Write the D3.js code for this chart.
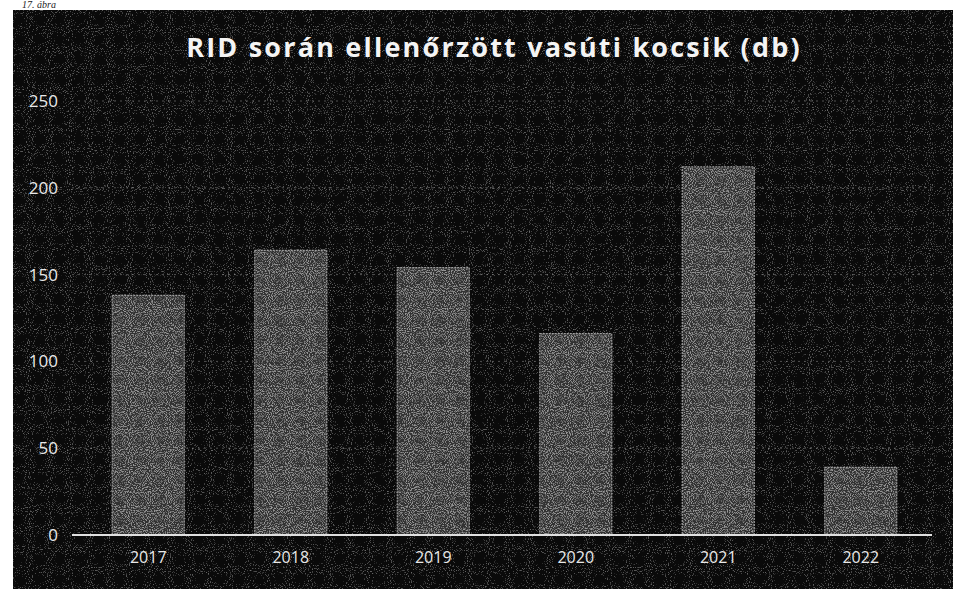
<!DOCTYPE html>
<html><head><meta charset="utf-8">
<script src="https://cdn.jsdelivr.net/npm/d3@7"></script>
<style>html,body{margin:0;padding:0;background:#fff;}svg{display:block;}</style>
</head><body>
<script>
const categories = ["2017","2018","2019","2020","2021","2022"];
const values = [138, 164, 154, 116, 212, 39];
const yTicks = [0, 50, 100, 150, 200, 250];
const titleText = "RID során ellenőrzött vasúti kocsik (db)";

const W = 953, H = 589;
const svg = d3.select("body").append("svg").attr("width", W).attr("height", H);

const defs = svg.append("defs");
function speck(id, thr, seed){
  const f = defs.append("filter").attr("id",id).attr("x",0).attr("y",0).attr("width","100%").attr("height","100%");
  f.append("feTurbulence").attr("type","fractalNoise").attr("baseFrequency",0.95).attr("numOctaves",1).attr("seed",seed).attr("result","n");
  f.append("feColorMatrix").attr("in","n").attr("type","matrix")
   .attr("values",`0 0 0 0 1  0 0 0 0 1  0 0 0 0 1  5 0 0 0 ${thr}`).attr("result","m");
  f.append("feComposite").attr("in","m").attr("in2","SourceGraphic").attr("operator","atop");
}
speck("speckBg", -3.0, 3);
speck("speckBar", -2.45, 7);

// page caption
svg.append("text").attr("x", 22).attr("y", 8).attr("font-family","Liberation Serif, serif")
  .attr("font-style","italic").attr("font-size",10).attr("fill","#222").text("17. ábra");

// dark panel
svg.append("rect").attr("x",13).attr("y",10).attr("width",W-13).attr("height",H-10).attr("fill","#080808");
svg.append("rect").attr("x",13).attr("y",10).attr("width",W-13).attr("height",H-10).attr("fill","#080808").attr("filter","url(#speckBg)").attr("opacity",0.4);

const x = d3.scaleBand().domain(categories).range([77, 932]).paddingInner(0.495).paddingOuter(0.2475);
const y = d3.scaleLinear().domain([0, 250]).range([535, 101]);

// gridlines
svg.append("g").selectAll("line").data(yTicks.filter(d=>d>0)).join("line")
  .attr("x1",72).attr("x2",932).attr("y1",d=>y(d)).attr("y2",d=>y(d))
  .attr("stroke","#9a9a9a").attr("stroke-width",1).attr("stroke-dasharray","2,4").attr("opacity",0.5);

// bars
const bars = svg.append("g");
bars.selectAll("rect.bar").data(values).join("rect").attr("class","bar")
  .attr("x",(d,i)=>x(categories[i])).attr("width",x.bandwidth())
  .attr("y",d=>y(d)).attr("height",d=>y(0)-y(d))
  .attr("fill","#333333").attr("stroke","#a0a0a0").attr("stroke-width",1.2).attr("stroke-dasharray","2,1");
bars.selectAll("rect.tex").data(values).join("rect").attr("class","tex")
  .attr("x",(d,i)=>x(categories[i])+1).attr("width",x.bandwidth()-2)
  .attr("y",d=>y(d)+1).attr("height",d=>y(0)-y(d)-1)
  .attr("fill","#333333").attr("filter","url(#speckBar)").attr("opacity",0.5);

// baseline
svg.append("line").attr("x1",72).attr("x2",932).attr("y1",y(0)).attr("y2",y(0))
  .attr("stroke","#e0e0e0").attr("stroke-width",2);

// y axis labels
const yAxis = d3.axisLeft(y).tickValues(yTicks).tickSize(0).tickPadding(0);
const yg = svg.append("g").attr("transform","translate(58,0)").call(yAxis);
yg.select(".domain").remove();
yg.selectAll("text").attr("font-family","Open Sans, Liberation Sans, sans-serif").attr("font-size",17).attr("fill","#e8e8e8");

// x axis labels
const xAxis = d3.axisBottom(x).tickSize(0).tickPadding(0);
const xg = svg.append("g").attr("transform",`translate(0,${y(0)+17})`).call(xAxis);
xg.select(".domain").remove();
xg.selectAll("text").attr("font-family","Open Sans, Liberation Sans, sans-serif").attr("font-size",16).attr("fill","#e8e8e8");

// title
svg.append("text").attr("x",494).attr("y",57).attr("text-anchor","middle")
  .attr("font-family","Open Sans, Liberation Sans, sans-serif").attr("font-weight","bold")
  .attr("font-size",27).attr("fill","#f4f4f4").attr("letter-spacing",2.2).text(titleText);
</script>
</body></html>
